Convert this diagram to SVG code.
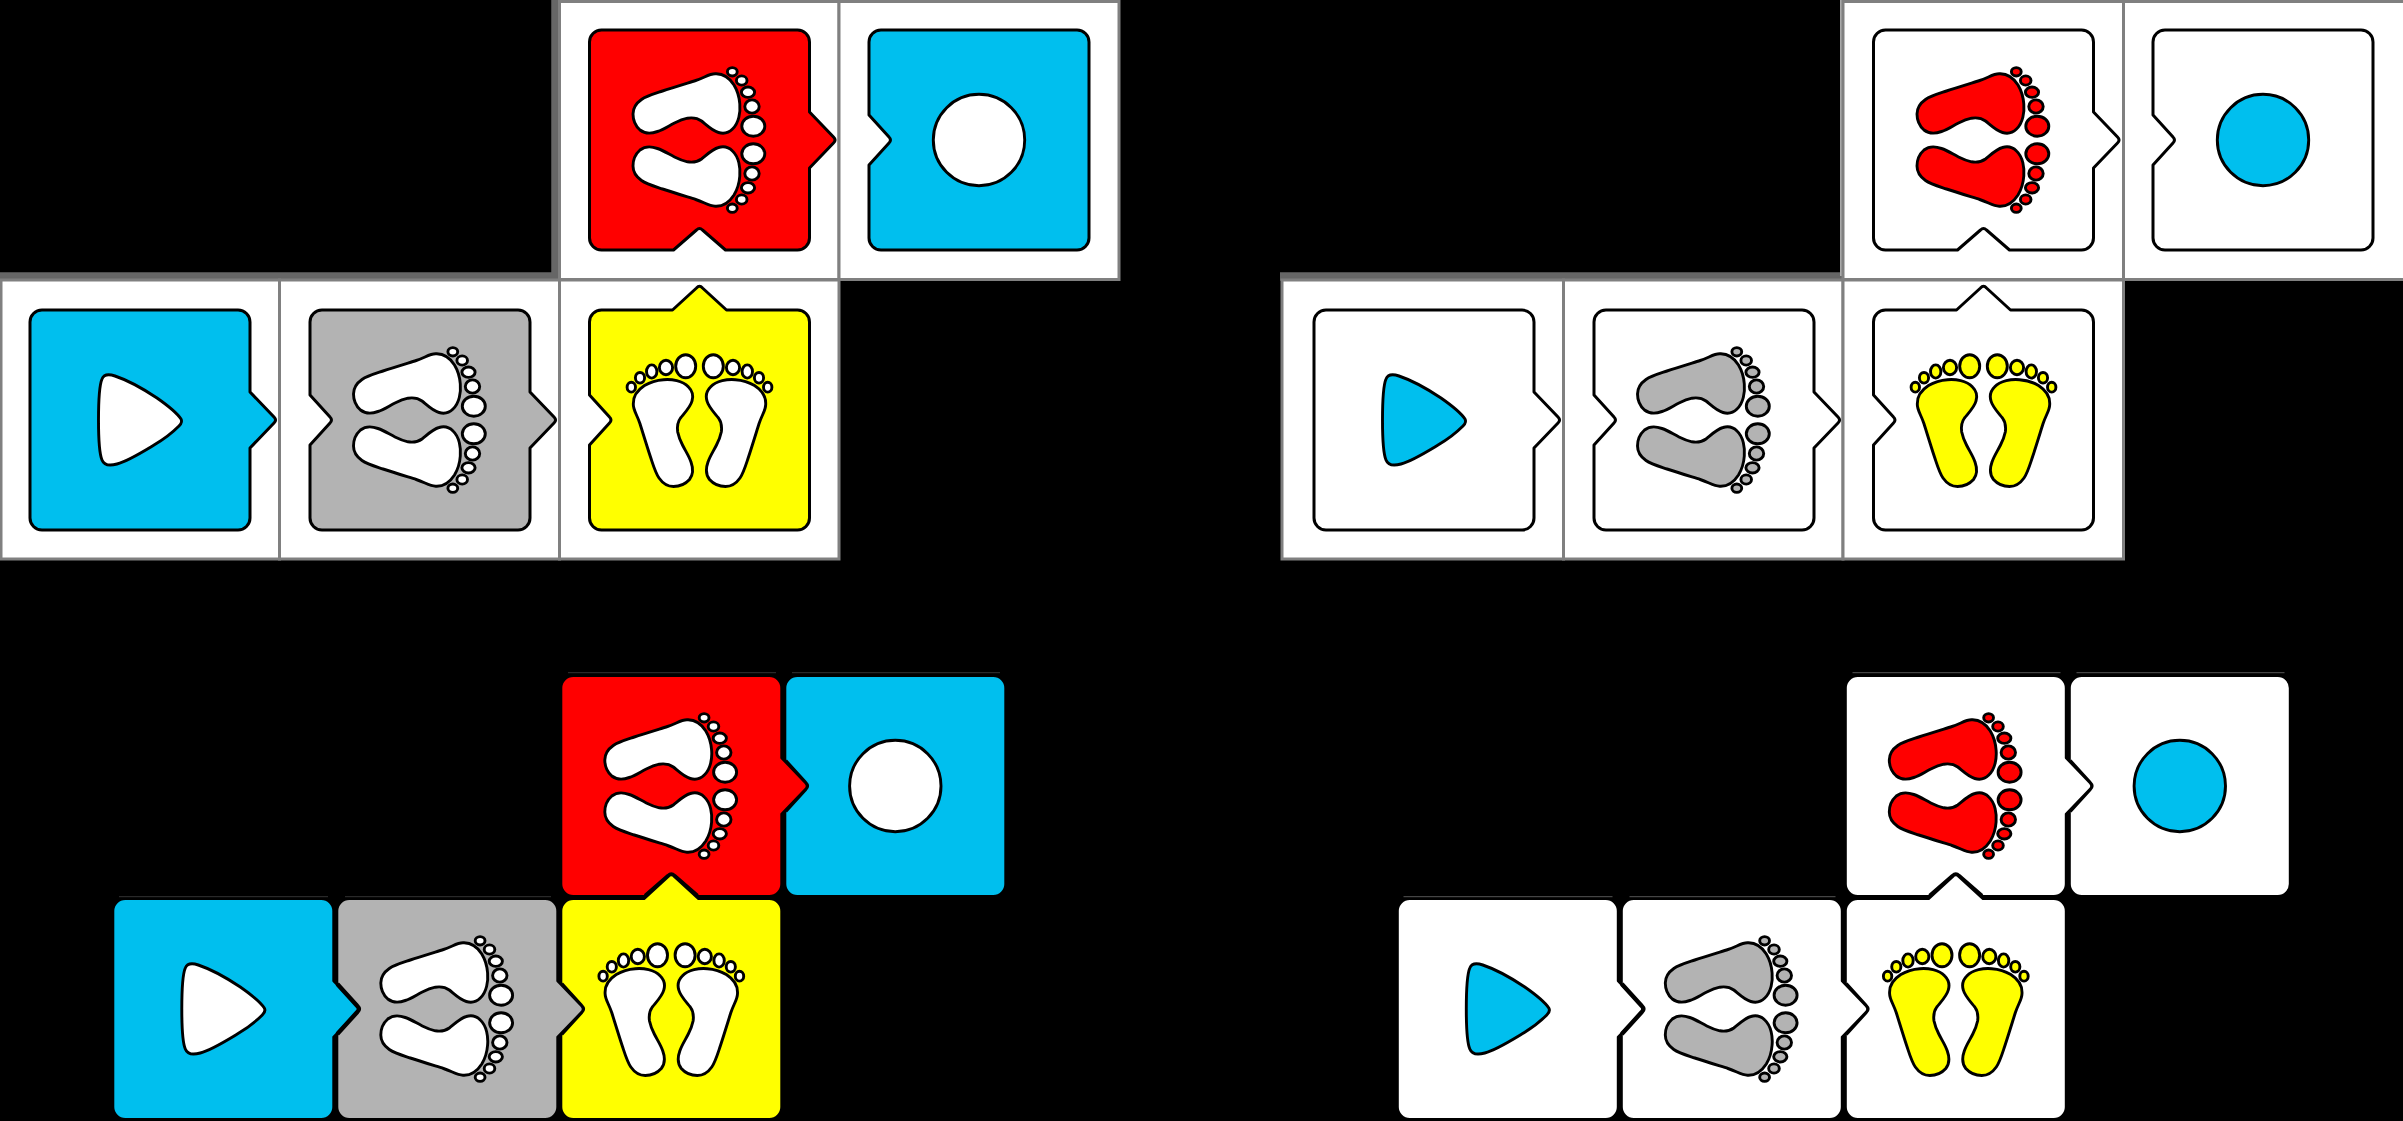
<svg xmlns="http://www.w3.org/2000/svg" xmlns:xlink="http://www.w3.org/1999/xlink" width="2403" height="1121" viewBox="0 0 2403 1121">
<style>
.tile{stroke:#000;stroke-width:3;stroke-linejoin:round}
.thin{stroke-width:2}
.g{stroke:#000;stroke-width:2.9;stroke-linejoin:round}
.cell{fill:#fff;stroke:#808080;stroke-width:3}
.band{fill:none;stroke:#666}
.hair{stroke:#333;stroke-width:1}
.hair2{stroke:#555;stroke-width:1}
.seam{fill:none;stroke:#000;stroke-width:4.4;stroke-linejoin:round}
.b{fill:#00BFEE}.s{fill:#B3B3B3}.y{fill:#FF0}.r{fill:#F00}.w{fill:#fff}
</style>
<defs>
<path id="t-play" d="M-98,-110H98A12,12 0 0 1 110,-98V-28L134,-3Q137,0 134,3L110,28V98A12,12 0 0 1 98,110H-98A12,12 0 0 1 -110,98V-98A12,12 0 0 1 -98,-110Z"/>
<path id="t-grey" d="M-98,-110H98A12,12 0 0 1 110,-98V-28L134,-3Q137,0 134,3L110,28V98A12,12 0 0 1 98,110H-98A12,12 0 0 1 -110,98V25L-90,3Q-87,0 -90,-3L-110,-25V-98A12,12 0 0 1 -98,-110Z"/>
<path id="t-yellow" d="M-98,-110H-27L-3,-132Q0,-135.5 3,-132L27,-110H98A12,12 0 0 1 110,-98V98A12,12 0 0 1 98,110H-98A12,12 0 0 1 -110,98V25L-90,3Q-87,0 -90,-3L-110,-25V-98A12,12 0 0 1 -98,-110Z"/>
<path id="t-red" d="M-98,-110H98A12,12 0 0 1 110,-98V-28L134,-3Q137,0 134,3L110,28V98A12,12 0 0 1 98,110H26L3,90Q0,87 -3,90L-26,110H-98A12,12 0 0 1 -110,98V-98A12,12 0 0 1 -98,-110Z"/>
<path id="t-blue" d="M-98,-110H98A12,12 0 0 1 110,-98V98A12,12 0 0 1 98,110H-98A12,12 0 0 1 -110,98V25L-90,3Q-87,0 -90,-3L-110,-25V-98A12,12 0 0 1 -98,-110Z"/>
<path id="seam-left" class="seam" d="M-110,25L-90,3Q-87,0 -90,-3L-110,-25"/>
<path id="seam-bottom" class="seam" d="M26,110L3,90Q0,87 -3,90L-26,110"/>
<path id="play" class="g" d="M-41.5,0C-41.5,-15 -41,-34 -38,-41C-36,-46 -31,-46 -25,-44C-10,-39 5,-30 17,-22C27,-15 37,-7 41,-1C42.5,1.5 41,4 39,6C33,12 26,18 14,25C4,31 -12,41 -23,44C-30,46 -36,45 -38,40C-41,33 -41.5,15 -41.5,0Z"/>
<circle id="stop" class="g" r="45.7"/>
<g id="half" class="g">
<path d="M-36,-40.3C-28,-41 -17,-39.5 -11,-33C-7,-29 -6,-24 -7.5,-19C-9,-13 -15,-7 -19,-2C-22,2 -22.5,7 -21.8,12C-21,16 -19.5,20 -17,25C-14,31 -10.5,36 -8.5,42C-6,49 -6.5,55 -10,59.5C-14,64 -20,66.5 -26,66.5C-32,66.5 -37,63 -40.5,58C-44,53 -46,46 -49,37C-52,28 -56.7,12.7 -59.5,3.8C-62.3,-5 -66.5,-10 -66.2,-16C-66.5,-23 -62,-30 -55,-34.5C-50,-37.5 -43,-39.8 -36,-40.3Z"/>
<ellipse cx="-13.8" cy="-53.8" rx="10" ry="11.5"/>
<ellipse cx="-33.5" cy="-52.5" rx="6.6" ry="7.2"/>
<ellipse cx="-47.8" cy="-48.5" rx="5.2" ry="6.6"/>
<ellipse cx="-59.5" cy="-42.2" rx="4.6" ry="5.3"/>
<ellipse cx="-68.2" cy="-32.8" rx="4.2" ry="4.9"/>
</g>
<g id="feet-up"><use xlink:href="#half" href="#half"/><use xlink:href="#half" href="#half" transform="scale(-1,1)"/></g>
<g id="feet-side"><use xlink:href="#feet-up" href="#feet-up" transform="rotate(90)"/></g>
</defs>
<rect width="2403" height="1121" fill="#000"/>

<g id="panel-a-frame">
<path class="band" stroke-width="8.5" d="M0,276.5H555.5V0"/>
<rect class="cell" x="1" y="280" width="278.5" height="279"/>
<rect class="cell" x="279.5" y="280" width="280" height="279"/>
<rect class="cell" x="559.5" y="280" width="279.5" height="279"/>
<rect class="cell" x="559.5" y="1.5" width="279.5" height="278"/>
<rect class="cell" x="839" y="1.5" width="280" height="278"/>
</g>
<g id="a-play" transform="translate(140,420)"><use class="tile b" xlink:href="#t-play" href="#t-play"/><use class="w" xlink:href="#play" href="#play"/></g>
<g id="a-grey" transform="translate(420,420)"><use class="tile s" xlink:href="#t-grey" href="#t-grey"/><use class="w" xlink:href="#feet-side" href="#feet-side"/></g>
<g id="a-red" transform="translate(699.5,140)"><use class="tile r" xlink:href="#t-red" href="#t-red"/><use class="w" xlink:href="#feet-side" href="#feet-side"/></g>
<g id="a-yellow" transform="translate(699.5,420)"><use class="tile y" xlink:href="#t-yellow" href="#t-yellow"/><use class="w" xlink:href="#feet-up" href="#feet-up"/></g>
<g id="a-blue" transform="translate(979,140)"><use class="tile b" xlink:href="#t-blue" href="#t-blue"/><use class="w" xlink:href="#stop" href="#stop"/></g>

<g id="panel-b-frame">
<path class="band" stroke-width="8.5" d="M1280,276.5H1842"/>
<path stroke="#aaa" stroke-width="3" fill="none" d="M1841.5,0V276"/>
<rect class="cell" x="1282" y="280" width="281.5" height="279"/>
<rect class="cell" x="1563.5" y="280" width="279.5" height="279"/>
<rect class="cell" x="1843" y="280" width="280.5" height="279"/>
<rect class="cell" x="1843" y="1.5" width="280.5" height="278"/>
<rect class="cell" x="2123.5" y="1.5" width="282" height="278"/>
</g>
<g id="b-play" transform="translate(1424,420)"><use class="tile w" xlink:href="#t-play" href="#t-play"/><use class="b" xlink:href="#play" href="#play"/></g>
<g id="b-grey" transform="translate(1704,420)"><use class="tile w" xlink:href="#t-grey" href="#t-grey"/><use class="s" xlink:href="#feet-side" href="#feet-side"/></g>
<g id="b-red" transform="translate(1983.5,140)"><use class="tile w" xlink:href="#t-red" href="#t-red"/><use class="r" xlink:href="#feet-side" href="#feet-side"/></g>
<g id="b-yellow" transform="translate(1983.5,420)"><use class="tile w" xlink:href="#t-yellow" href="#t-yellow"/><use class="y" xlink:href="#feet-up" href="#feet-up"/></g>
<g id="b-blue" transform="translate(2263,140)"><use class="tile w" xlink:href="#t-blue" href="#t-blue"/><use class="b" xlink:href="#stop" href="#stop"/></g>

<g id="panel-c-hairlines">
<path class="hair" d="M119,896.7H328M345,896.7H551M568,672.7H776M792,672.7H1000"/>
</g>
<g id="c-play" transform="translate(223.3,1009)"><use class="tile thin b" xlink:href="#t-play" href="#t-play"/><use class="w" xlink:href="#play" href="#play"/></g>
<g id="c-blue" transform="translate(895.3,786)"><use class="tile thin b" xlink:href="#t-blue" href="#t-blue"/><use class="w" xlink:href="#stop" href="#stop"/><use xlink:href="#seam-left" href="#seam-left"/></g>
<g id="c-red" transform="translate(671.3,786)"><use class="tile thin r" xlink:href="#t-red" href="#t-red"/><use class="w" xlink:href="#feet-side" href="#feet-side"/><use xlink:href="#seam-bottom" href="#seam-bottom"/></g>
<g id="c-yellow" transform="translate(671.3,1009)"><use class="tile thin y" xlink:href="#t-yellow" href="#t-yellow"/><use class="w" xlink:href="#feet-up" href="#feet-up"/><use xlink:href="#seam-left" href="#seam-left"/></g>
<g id="c-grey" transform="translate(447.3,1009)"><use class="tile thin s" xlink:href="#t-grey" href="#t-grey"/><use class="w" xlink:href="#feet-side" href="#feet-side"/><use xlink:href="#seam-left" href="#seam-left"/></g>

<g id="panel-d-hairlines">
<path class="hair2" d="M1403.5,896.7H1612.5M1629.5,896.7H1835.5M1852.5,672.7H2060.5M2076.5,672.7H2284.5"/>
</g>
<g id="d-play" transform="translate(1507.8,1009)"><use class="tile thin w" xlink:href="#t-play" href="#t-play"/><use class="b" xlink:href="#play" href="#play"/></g>
<g id="d-blue" transform="translate(2179.8,786)"><use class="tile thin w" xlink:href="#t-blue" href="#t-blue"/><use class="b" xlink:href="#stop" href="#stop"/><use xlink:href="#seam-left" href="#seam-left"/></g>
<g id="d-red" transform="translate(1955.8,786)"><use class="tile thin w" xlink:href="#t-red" href="#t-red"/><use class="r" xlink:href="#feet-side" href="#feet-side"/><use xlink:href="#seam-bottom" href="#seam-bottom"/></g>
<g id="d-yellow" transform="translate(1955.8,1009)"><use class="tile thin w" xlink:href="#t-yellow" href="#t-yellow"/><use class="y" xlink:href="#feet-up" href="#feet-up"/><use xlink:href="#seam-left" href="#seam-left"/></g>
<g id="d-grey" transform="translate(1731.8,1009)"><use class="tile thin w" xlink:href="#t-grey" href="#t-grey"/><use class="s" xlink:href="#feet-side" href="#feet-side"/><use xlink:href="#seam-left" href="#seam-left"/></g>
</svg>
